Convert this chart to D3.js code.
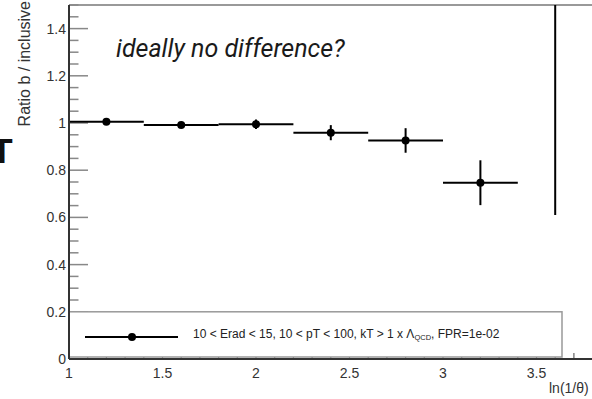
<!DOCTYPE html>
<html><head><meta charset="utf-8">
<script src="https://cdn.jsdelivr.net/npm/d3@7"></script>
<style>html,body{margin:0;padding:0;background:#fff;overflow:hidden}</style>
</head><body>
<script>
// ---- data ----
const binCenters = [1.2, 1.6, 2.0, 2.4, 2.8, 3.2, 3.6];
const binHalfWidth = [0.2, 0.2, 0.2, 0.2, 0.2, 0.2, 0.2];
const ratioValues = [1.005, 0.991, 0.995, 0.959, 0.926, 0.747, 2.3];
const ratioErrors = [0.008, 0.006, 0.02, 0.032, 0.052, 0.095, 1.69];
const xTickLabels = ["1", "1.5", "2", "2.5", "3", "3.5"];
const yTickLabels = ["0", "0.2", "0.4", "0.6", "0.8", "1", "1.2", "1.4"];
const legendText = "10 < Erad < 15, 10 < pT < 100, kT > 1 x Λ";
const legendSub = "QCD";
const legendTail = ", FPR=1e-02";
const annotation = "ideally no difference?";
const yTitle = "Ratio b / inclusive";
const xTitle = "ln(1/θ)";

const W = 592, H = 399;
const svg = d3.select("body").append("svg").attr("width", W).attr("height", H)
  .style("font-family", "'Liberation Sans', Arial, sans-serif");

const x = d3.scaleLinear().domain([1, 4.2]).range([69, 69 + 187 * 3.2]);
const y = d3.scaleLinear().domain([0, 1.5]).range([359, 5]);

svg.append("defs").append("clipPath").attr("id", "frame")
  .append("rect").attr("x", 69).attr("y", 5).attr("width", 700).attr("height", 354);

// frame top
svg.append("line").attr("x1", 69).attr("x2", W).attr("y1", 5).attr("y2", 5)
  .attr("stroke", "#999").attr("stroke-width", 2);

// y axis ticks
const yMinor = d3.range(0, 1.5001, 0.05);
const g = svg.append("g");
g.selectAll("line.ym").data(yMinor).join("line")
  .attr("x1", 69).attr("x2", d => (Math.round(d * 100) % 20 === 0) ? 88 : 78.5)
  .attr("y1", d => y(d)).attr("y2", d => y(d))
  .attr("stroke", "#888").attr("stroke-width", 1.5);

// x axis ticks (upward)
const xMinor = d3.range(1, 4.2001, 0.1);
g.selectAll("line.xm").data(xMinor).join("line")
  .attr("y1", 359).attr("y2", d => (Math.round(d * 10) % 5 === 0) ? 347 : 353)
  .attr("x1", d => x(d)).attr("x2", d => x(d))
  .attr("stroke", "#666").attr("stroke-width", 1.2);

// y tick labels
svg.selectAll("text.yl").data(yTickLabels).join("text")
  .attr("x", 66).attr("y", d => y(+d) + 5)
  .attr("text-anchor", "end").attr("font-size", 14).attr("fill", "#333")
  .text(d => d);

// x tick labels
svg.selectAll("text.xl").data(xTickLabels).join("text")
  .attr("x", d => x(+d)).attr("y", 378)
  .attr("text-anchor", "middle").attr("font-size", 14).attr("fill", "#333")
  .text(d => d);

// titles
svg.append("text").attr("x", 549).attr("y", 393).attr("font-size", 14).attr("fill", "#333").text(xTitle);
svg.append("text").attr("transform", "translate(30,1) rotate(-90)")
  .attr("text-anchor", "end").attr("font-size", 16).attr("fill", "#333").text(yTitle);

// stray bold T (cut-off label)
svg.append("text").attr("x", 2).attr("y", 163).attr("text-anchor", "middle")
  .attr("font-size", 35).attr("font-weight", "bold").attr("fill", "#111").text("T");

// annotation
svg.append("text").attr("x", 116).attr("y", 57)
  .attr("font-family", "Roboto, sans-serif").attr("font-style", "italic")
  .attr("font-size", 25).attr("fill", "#1a1a1a").text(annotation);

// data
const pts = binCenters.map((c, i) => ({c, hw: binHalfWidth[i], v: ratioValues[i], e: ratioErrors[i]}));
const dg = svg.append("g").attr("clip-path", "url(#frame)");
dg.selectAll("line.h").data(pts).join("line")
  .attr("x1", d => x(d.c - d.hw)).attr("x2", d => x(d.c + d.hw))
  .attr("y1", d => y(d.v)).attr("y2", d => y(d.v))
  .attr("stroke", "#000").attr("stroke-width", 2);
dg.selectAll("line.v").data(pts).join("line")
  .attr("x1", d => x(d.c)).attr("x2", d => x(d.c))
  .attr("y1", d => y(d.v - d.e)).attr("y2", d => y(d.v + d.e))
  .attr("stroke", "#000").attr("stroke-width", 2);
dg.selectAll("circle").data(pts).join("circle")
  .attr("cx", d => x(d.c)).attr("cy", d => y(d.v)).attr("r", 4).attr("fill", "#000");

// legend box
svg.append("rect").attr("x", 69).attr("y", y(0.2)).attr("width", 562 - 69).attr("height", 357 - y(0.2))
  .attr("fill", "#fff").attr("stroke", "#999").attr("stroke-width", 1.5);
svg.append("line").attr("x1", 85).attr("x2", 178).attr("y1", 337).attr("y2", 337)
  .attr("stroke", "#000").attr("stroke-width", 2);
svg.append("circle").attr("cx", 132).attr("cy", 337).attr("r", 4).attr("fill", "#000");
const lt = svg.append("text").attr("x", 193).attr("y", 338).attr("font-size", 12).attr("fill", "#222");
lt.append("tspan").text(legendText);
lt.append("tspan").attr("font-size", 7.5).attr("dy", 2).text(legendSub);
lt.append("tspan").attr("dy", -2).text(legendTail);

// axes lines
svg.append("line").attr("x1", 69).attr("x2", 69).attr("y1", 5).attr("y2", 359)
  .attr("stroke", "#333").attr("stroke-width", 2);
svg.append("line").attr("x1", 69).attr("x2", W).attr("y1", 359).attr("y2", 359)
  .attr("stroke", "#333").attr("stroke-width", 2);
</script>
</body></html>
